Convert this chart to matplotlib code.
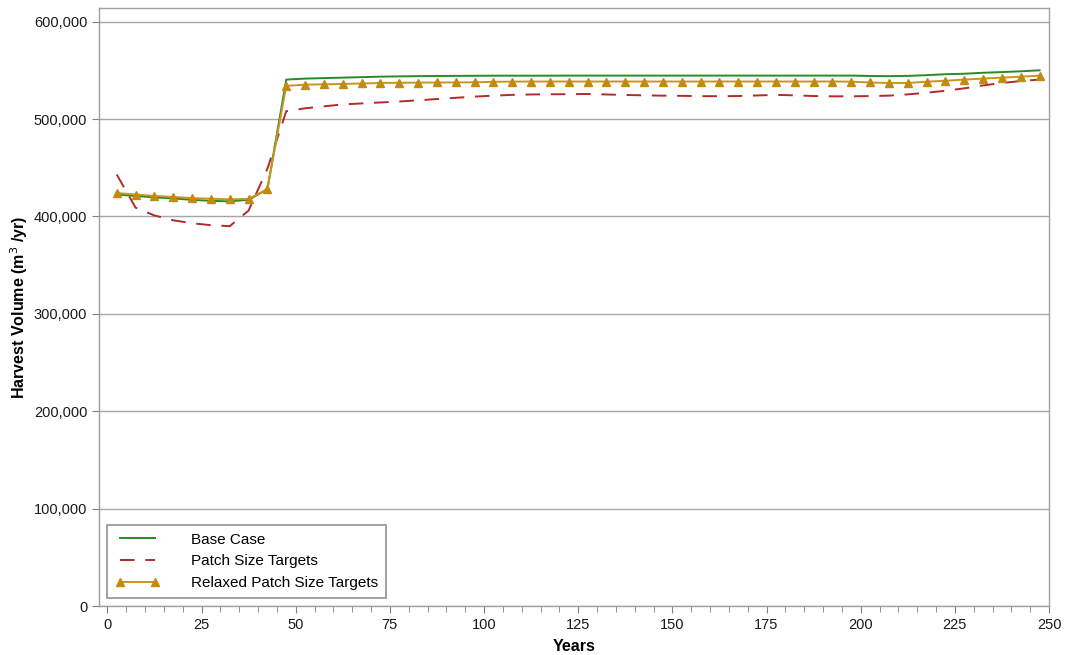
import matplotlib
matplotlib.use("Agg")
import matplotlib.pyplot as plt
from matplotlib.ticker import MultipleLocator, FuncFormatter

years = [2.5 + 5 * i for i in range(50)]

base_case = [422500, 421000, 419500, 418500, 417000, 416000, 415500, 417000, 428000, 540500,
             541500, 542000, 542500, 543000, 543500, 543800, 544000, 544200, 544300, 544400,
             544500, 544500, 544500, 544500, 544600, 544600, 544600, 544600, 544600, 544600,
             544600, 544600, 544600, 544600, 544600, 544600, 544600, 544600, 544600, 544600,
             544200, 544000, 544300, 545000, 546000, 546500, 547500, 548200, 549000, 550000]

patch_targets = [443000, 409000, 401000, 396000, 393000, 391000, 390000, 406000, 449000, 508000,
                 511000, 513000, 515000, 516000, 517000, 518000, 519200, 520500, 521800, 523000,
                 524000, 524800, 525200, 525400, 525500, 525700, 525200, 524700, 524300, 524000,
                 523800, 523500, 523400, 523600, 524200, 524800, 524300, 523600, 523300, 523300,
                 523600, 524000, 525300, 527000, 529000, 531500, 534500, 537000, 539000, 540500]

relaxed_targets = [424000, 422500, 421000, 420000, 418800, 418200, 417500, 418000, 428000, 534000,
                   535300, 535600, 536000, 536500, 537000, 537200, 537400, 537500, 537600, 537700,
                   538200, 538400, 538500, 538500, 538500, 538500, 538500, 538500, 538500, 538500,
                   538500, 538500, 538500, 538500, 538500, 538500, 538500, 538500, 538500, 538400,
                   537500, 537000, 537000, 538300, 539300, 540500, 541500, 542500, 543500, 544500]

series_labels = ["Base Case", "Patch Size Targets", "Relaxed Patch Size Targets"]

plt.rcParams['font.family'] = ['Liberation Sans', 'DejaVu Sans']

fig = plt.figure(figsize=(10.65, 6.55), dpi=100)
ax = fig.add_axes([0.093, 0.0748, 0.892, 0.913])

ax.plot(years, base_case, color='#2a8a2a', lw=1.4, label=series_labels[0], zorder=3)
ax.plot(years, patch_targets, color='#b22a2a', lw=1.4, dashes=(7.5, 5.5), label=series_labels[1], zorder=2)
ax.plot(years, relaxed_targets, color='#c8961e', lw=1.4, marker='^', markersize=6,
        markerfacecolor='#c28a10', markeredgecolor='#c28a10', label=series_labels[2], zorder=4)

ax.set_xlim(-2.2, 250)
ax.set_ylim(0, 614000)
ax.xaxis.set_major_locator(MultipleLocator(25))
ax.xaxis.set_minor_locator(MultipleLocator(5))
ax.yaxis.set_major_locator(MultipleLocator(100000))
ax.yaxis.set_major_formatter(FuncFormatter(lambda v, p: f"{int(v):,}"))

ax.grid(axis='y', color='#a6a6a6', lw=1.0)
ax.set_axisbelow(True)
for s in ax.spines.values():
    s.set_color('#a0a0a0')
    s.set_linewidth(1.0)

ax.tick_params(axis='both', which='both', direction='out', color='#808080', labelsize=10.5,
               labelcolor='#1a1a1a')
ax.tick_params(axis='both', which='major', length=5)
ax.tick_params(axis='x', which='minor', length=4)

ax.set_xlabel("Years", fontsize=11.5, fontweight='bold', labelpad=5)
ax.set_ylabel("Harvest Volume (m$^{3}$ /yr)", fontsize=11.5, fontweight='bold', labelpad=3)

leg = ax.legend(loc='lower left', bbox_to_anchor=(0.0, 0.0), fontsize=11, frameon=True,
                fancybox=False, edgecolor='#808080', handlelength=2.9, handletextpad=2.1,
                borderpad=0.5, labelspacing=0.5, numpoints=2, borderaxespad=0.55)
leg.get_frame().set_linewidth(1.3)

fig.savefig("out.png", dpi=100)
